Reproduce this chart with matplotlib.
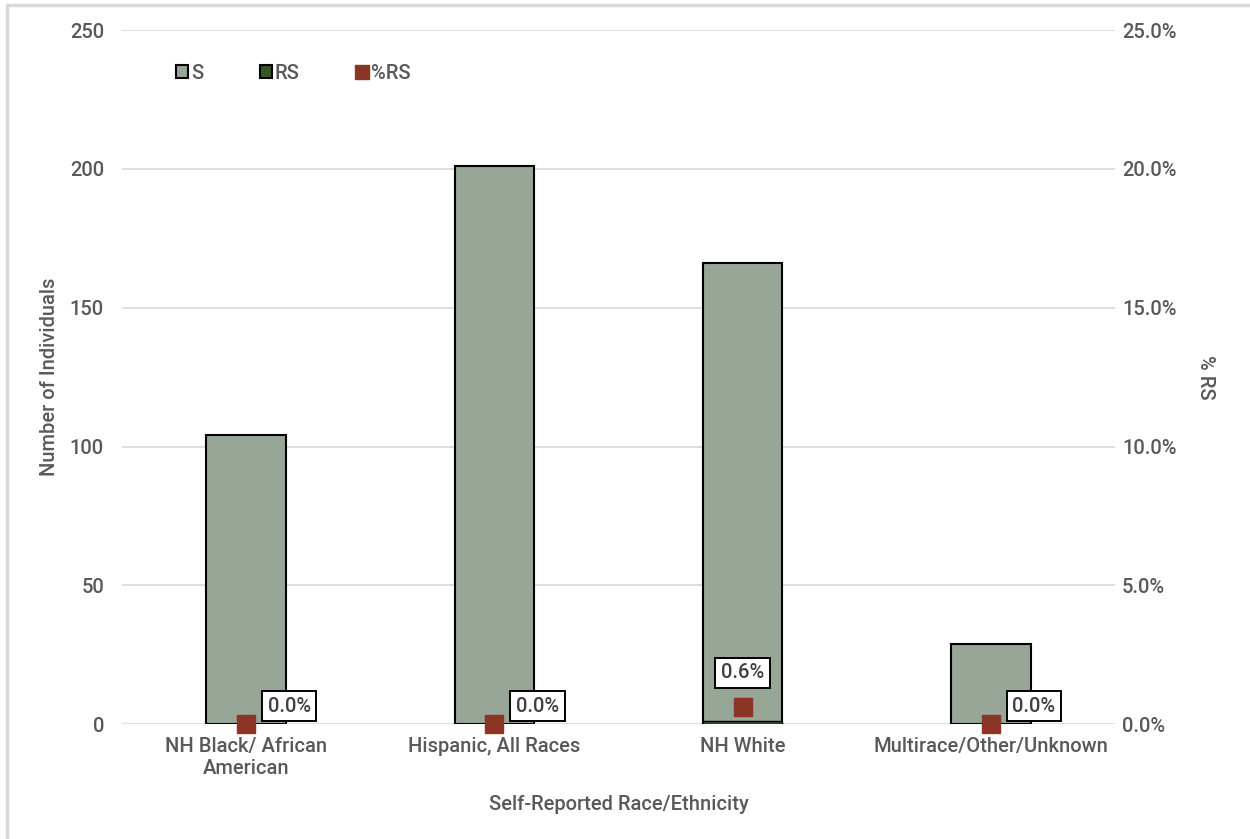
import matplotlib
matplotlib.use("Agg")
import matplotlib.pyplot as plt
from matplotlib.patches import Patch, Rectangle
from matplotlib.lines import Line2D
from matplotlib.ticker import FuncFormatter, MultipleLocator

plt.rcParams['font.family'] = ['Roboto', 'DejaVu Sans']
plt.rcParams['font.weight'] = 'medium'
plt.rcParams['axes.labelweight'] = 'medium'

categories = ["NH Black/ African\nAmerican", "Hispanic, All Races", "NH White",
              "Multirace/Other/Unknown"]
s_counts = [104, 201, 166, 29]
rs_counts = [0, 0, 1, 0]
pct_rs = [0.0, 0.0, 0.6, 0.0]
pct_labels = ["0.0%", "0.0%", "0.6%", "0.0%"]

TEXT = "#595959"
S_COLOR = "#97A697"
RS_COLOR = "#375623"
PCT_COLOR = "#8B3527"
GRID = "#D9D9D9"
FS = 14.5

fig = plt.figure(figsize=(12.5, 8.39), dpi=100)
ax = fig.add_axes([0.0976, 0.137, 0.7944, 0.827])
ax2 = ax.twinx()

x = list(range(len(categories)))
width = 0.32
ax.bar(x, s_counts, width=width, color=S_COLOR, edgecolor="black", linewidth=1.5, zorder=2)
ax.bar(x, rs_counts, width=width, color=RS_COLOR, edgecolor="black", linewidth=1.0, zorder=3)

ax.set_ylim(0, 250)
ax.yaxis.set_major_locator(MultipleLocator(50))
ax.set_xlim(-0.5, len(categories) - 0.5)
ax.grid(axis="y", color=GRID, linewidth=1.2, zorder=0)
ax.set_axisbelow(True)
for sp in ax.spines.values():
    sp.set_visible(False)
for sp in ax2.spines.values():
    sp.set_visible(False)

ax.set_xticks(x)
ax.set_xticklabels(categories, fontsize=FS, color=TEXT, linespacing=1.25)
ax.tick_params(axis="both", length=0, pad=9, labelsize=FS, labelcolor=TEXT)
ax.tick_params(axis="y", pad=13)
ax.set_ylabel("Number of Individuals", fontsize=FS, color=TEXT, labelpad=8)
ax.set_xlabel("Self-Reported Race/Ethnicity", fontsize=FS, color=TEXT, labelpad=12)

ax2.set_ylim(0, 25)
ax2.yaxis.set_major_locator(MultipleLocator(5))
ax2.yaxis.set_major_formatter(FuncFormatter(lambda v, p: f"{v:.1f}%"))
ax2.tick_params(axis="y", length=0, pad=5, labelsize=FS, labelcolor=TEXT)
ax2.set_ylabel("% RS", fontsize=FS, color=TEXT, rotation=-90, labelpad=28)

ax2.plot(x, pct_rs, linestyle="none", marker="s", markersize=12.5,
         color=PCT_COLOR, zorder=5, clip_on=False)
for xi, v, lab in zip(x, pct_rs, pct_labels):
    if v > 0:
        off = (0, 25)
    else:
        off = (31, 13)
    ax2.annotate(lab, (xi, v), xytext=off, textcoords="offset points",
                 ha="center", va="center", fontsize=FS, color="#404040",
                 bbox=dict(boxstyle="square,pad=0.28", fc="white", ec="black", lw=1.4),
                 zorder=6, annotation_clip=False)

handles = [
    Patch(facecolor=S_COLOR, edgecolor="black", linewidth=1.5, label="S"),
    Patch(facecolor=RS_COLOR, edgecolor="black", linewidth=1.5, label="RS"),
    Line2D([], [], linestyle="none", marker="s", markersize=10, color=PCT_COLOR, label="%RS"),
]
leg = ax.legend(handles=handles, loc="upper left", bbox_to_anchor=(0.036, 0.978), ncol=3,
                frameon=False, fontsize=FS, handlelength=0.6, handleheight=0.6,
                handletextpad=0.15, columnspacing=2.8)
for t in leg.get_texts():
    t.set_color(TEXT)

# outer chart-area border
fig.patches.append(Rectangle((7 / 1250, -0.01), 1.1, 1 - 5 / 839 + 0.01,
                             transform=fig.transFigure, fill=False,
                             edgecolor="#D9D9D9", linewidth=2.5))

fig.savefig("out.png", dpi=100)
